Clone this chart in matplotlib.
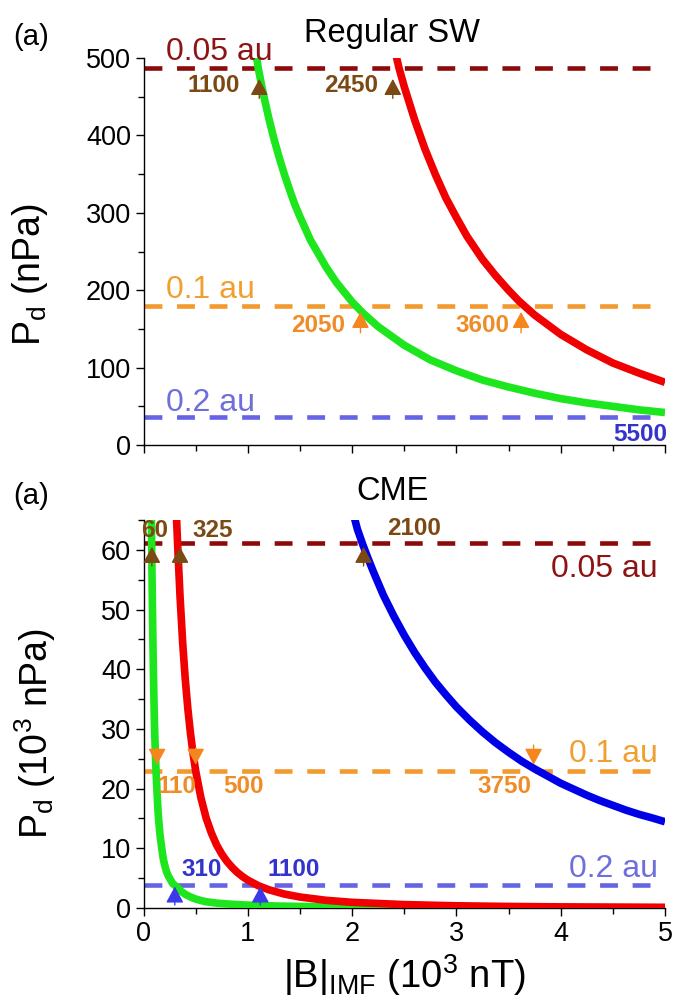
import matplotlib
matplotlib.use("Agg")
import matplotlib.pyplot as plt
from matplotlib.ticker import MultipleLocator

plt.rcParams['font.family'] = ['Liberation Sans', 'DejaVu Sans']
plt.rcParams['mathtext.fontset'] = 'custom'
plt.rcParams['mathtext.rm'] = 'Liberation Sans'
plt.rcParams['mathtext.it'] = 'Liberation Sans:italic'

# ---- data ----
# top panel: regular solar wind, Pd in nPa vs |B| in 10^3 nT
sw_green_b = [1.07, 1.1, 1.15, 1.2, 1.25, 1.3, 1.35, 1.4, 1.45, 1.5, 1.6, 1.75, 1.85, 2.0,
              2.1, 2.25, 2.5, 2.75, 3.0, 3.25, 3.5, 3.75, 4.0, 4.25, 4.5, 4.75, 5.0]
sw_green_p = [515, 487, 453, 423, 396, 372, 350, 330, 311, 295, 265, 230, 210, 185,
              171, 153, 129, 110, 96, 84, 75, 67, 60, 54.5, 50, 45.5, 42]
sw_red_b = [2.41, 2.45, 2.5, 2.6, 2.7, 2.8, 2.9, 3.0, 3.1, 3.25, 3.375, 3.5, 3.6, 3.75,
            4.0, 4.25, 4.5, 4.75, 5.0]
sw_red_p = [510, 487, 463, 420, 382, 349, 319, 294, 270, 240, 219, 200, 186, 168,
            143, 123, 106, 93, 81]

# bottom panel: CME, Pd in 10^3 nPa
cme_green_b = [0.075, 0.08, 0.085, 0.09, 0.095, 0.10, 0.105, 0.11, 0.115, 0.12, 0.13, 0.14,
               0.15, 0.16, 0.175, 0.19, 0.2, 0.22, 0.24, 0.26, 0.28, 0.32, 0.36, 0.4, 0.45,
               0.5, 0.55, 0.6, 0.7, 0.8, 1.0, 1.3, 1.7, 2.2, 3.0, 4.0, 5.0]
cme_green_p = [66, 58, 51, 45, 39.5, 35, 31, 28, 25.5, 23, 19.3, 16,
               13.8, 12, 10, 8.2, 7.4, 6.1, 5.3, 4.7, 4.1, 3.5, 2.8, 2.3, 1.85,
               1.5, 1.25, 1.05, 0.82, 0.68, 0.48, 0.32, 0.21, 0.14, 0.08, 0.05, 0.035]
cme_red_b = [0.315, 0.33, 0.35, 0.375, 0.4, 0.425, 0.45, 0.475, 0.5, 0.55, 0.6, 0.65, 0.7,
             0.75, 0.8, 0.85, 0.9, 0.95, 1.0, 1.1, 1.2, 1.35, 1.5, 1.75, 2.0, 2.5, 3.0,
             3.5, 4.0, 5.0]
cme_red_p = [66, 59.8, 52.3, 44.6, 38.4, 33.4, 29.3, 25.9, 23, 18.5, 15.1, 12.6, 10.6,
             9.05, 7.8, 6.8, 5.95, 5.26, 4.67, 3.75, 3.07, 2.34, 1.84, 1.29, 0.95, 0.57, 0.37,
             0.26, 0.19, 0.115]
cme_blue_b = [2.02, 2.05, 2.1, 2.15, 2.2, 2.3, 2.4, 2.5, 2.6, 2.7, 2.8, 2.9, 3.0, 3.125,
              3.25, 3.375, 3.5, 3.625, 3.75, 3.875, 4.0, 4.125, 4.25, 4.375, 4.5, 4.625,
              4.75, 4.875, 5.0]
cme_blue_p = [65.5, 63.5, 61, 58.7, 56.5, 52.4, 48.9, 45.7, 42.8, 40.2, 37.8, 35.7, 33.7, 31.5,
              29.5, 27.7, 26.1, 24.6, 23.3, 22.1, 20.9, 19.9, 18.9, 18.0, 17.2, 16.4,
              15.7, 15.1, 14.45]

# distance levels
sw_levels = [487, 180, 36]
cme_levels = [61.2, 23.0, 3.8]
level_names = ['0.05 au', '0.1 au', '0.2 au']

# crossing markers: (B, tip, tail)
sw_marks = [[(1.11, 473, 448), (2.39, 473, 448)],
            [(2.08, 172, 145), (3.62, 172, 145)],
            []]
sw_mark_text = [['1100', '2450'], ['2050', '3600'], ['5500']]
cme_marks = [[(0.08, 60.5, 57.3), (0.35, 60.5, 57.3), (2.11, 60.5, 57.3)],
             [(0.13, 24.0, 26.8), (0.50, 24.0, 26.8), (3.74, 24.0, 27.3)],
             [(0.30, 3.6, 0.5), (1.12, 3.6, 0.5)]]
cme_mark_text = [['60', '325', '2100'], ['110', '500', '3750'], ['310', '1100']]

# ---- styles ----
line_cols = ['#8c0a0a', '#f39a2e', '#6464e4']
name_cols = ['#8c1414', '#f0a030', '#6f6fdc']
num_cols = ['#7b4a14', '#f08c28', '#3434cc']
arrow_cols = ['#7b4a14', '#f5861e', '#3a3ae8']
green, red, blue = '#1ee61e', '#f00000', '#0000e6'
dash = (0, (3.9, 3.2))
lw_curve = 5.5
lw_dash = 3.3

fig = plt.figure(figsize=(6.75, 10.01), dpi=100)
ax1 = fig.add_axes([0.2126, 0.5554, 0.7726, 0.3866])
ax2 = fig.add_axes([0.2126, 0.0929, 0.7726, 0.3876])


def style(ax):
    for s in ['top', 'right']:
        ax.spines[s].set_visible(False)
    for s in ['left', 'bottom']:
        ax.spines[s].set_linewidth(1.0)
    ax.tick_params(which='major', direction='out', length=6, width=1, labelsize=19.5, pad=3)
    ax.tick_params(which='minor', direction='out', length=4, width=1)
    ax.xaxis.set_major_locator(MultipleLocator(1))
    ax.xaxis.set_minor_locator(MultipleLocator(0.5))
    ax.set_xlim(0, 5)


def arrow(ax, b, tip, tail, col):
    ax.annotate('', xy=(b, tip), xytext=(b, tail),
                arrowprops=dict(arrowstyle='-|>,head_length=0.5,head_width=0.27',
                                color=col, lw=1.0, mutation_scale=20,
                                shrinkA=0, shrinkB=0), zorder=6)


# ---- top panel ----
style(ax1)
ax1.set_ylim(0, 500)
ax1.yaxis.set_major_locator(MultipleLocator(100))
ax1.yaxis.set_minor_locator(MultipleLocator(50))
ax1.tick_params(axis='x', labelbottom=False)
for lev, c in zip(sw_levels, line_cols):
    ax1.axhline(lev, color=c, lw=lw_dash, ls=dash, zorder=2)
ax1.plot(sw_green_b, sw_green_p, color=green, lw=lw_curve, zorder=3, solid_capstyle='butt')
ax1.plot(sw_red_b, sw_red_p, color=red, lw=lw_curve, zorder=3, solid_capstyle='butt')
for i, marks in enumerate(sw_marks):
    for b, tip, tail in marks:
        arrow(ax1, b, tip, tail, arrow_cols[i])

name_y = [497, 190, 44]
for name, y, c in zip(level_names, name_y, name_cols):
    ax1.text(0.22, y, name, color=c, fontsize=23, va='baseline', ha='left', clip_on=False)

num_pos = [[(0.925, 464), (2.25, 464)], [(1.93, 154), (3.51, 154)], [(5.02, 14)]]
for i, (texts, pos) in enumerate(zip(sw_mark_text, num_pos)):
    for t, (x, y) in zip(texts, pos):
        ax1.text(x, y, t, color=num_cols[i], fontsize=17.5, fontweight='bold',
                 ha='right', va='center', clip_on=False)

ax1.set_ylabel('P$_\\mathrm{d}$ (nPa)', fontsize=27, labelpad=6)
ax1.yaxis.set_label_coords(-0.18, 0.44)
fig.text(0.581, 0.958, 'Regular SW', fontsize=23.5, ha='center', va='baseline')
fig.text(0.02, 0.955, '(a)', fontsize=21, ha='left', va='baseline')

# ---- bottom panel ----
style(ax2)
ax2.set_ylim(0, 65)
ax2.yaxis.set_major_locator(MultipleLocator(10))
ax2.yaxis.set_minor_locator(MultipleLocator(5))
for lev, c in zip(cme_levels, line_cols):
    ax2.axhline(lev, color=c, lw=lw_dash, ls=dash, zorder=2)
ax2.plot(cme_green_b, cme_green_p, color=green, lw=lw_curve, zorder=3, solid_capstyle='butt')
ax2.plot(cme_red_b, cme_red_p, color=red, lw=lw_curve, zorder=3, solid_capstyle='butt')
ax2.plot(cme_blue_b, cme_blue_p, color=blue, lw=lw_curve, zorder=3, solid_capstyle='butt')
for i, marks in enumerate(cme_marks):
    for b, tip, tail in marks:
        arrow(ax2, b, tip, tail, arrow_cols[i])

name_y2 = [55.5, 24.5, 5.2]
for name, y, c in zip(level_names, name_y2, name_cols):
    ax2.text(4.93, y, name, color=c, fontsize=23, va='baseline', ha='right', clip_on=False)

num_pos2 = [[(-0.02, 63.3), (0.465, 63.3), (2.335, 63.6)],
            [(0.13, 20.3), (0.76, 20.3), (3.2, 20.3)],
            [(0.366, 6.4), (1.19, 6.4)]]
for i, (texts, pos) in enumerate(zip(cme_mark_text, num_pos2)):
    for t, (x, y) in zip(texts, pos):
        ax2.text(x, y, t, color=num_cols[i], fontsize=17.5, fontweight='bold',
                 ha='left', va='center', clip_on=False, zorder=7)

ax2.set_ylabel('P$_\\mathrm{d}$ (10$^3$ nPa)', fontsize=27)
ax2.yaxis.set_label_coords(-0.163, 0.45)
ax2.set_xlabel('|B|$_\\mathrm{IMF}$ (10$^3$ nT)', fontsize=27.5, labelpad=4)
fig.text(0.581, 0.5, 'CME', fontsize=23.5, ha='center', va='baseline')
fig.text(0.02, 0.497, '(a)', fontsize=21, ha='left', va='baseline')

fig.savefig('out.png', dpi=100)
